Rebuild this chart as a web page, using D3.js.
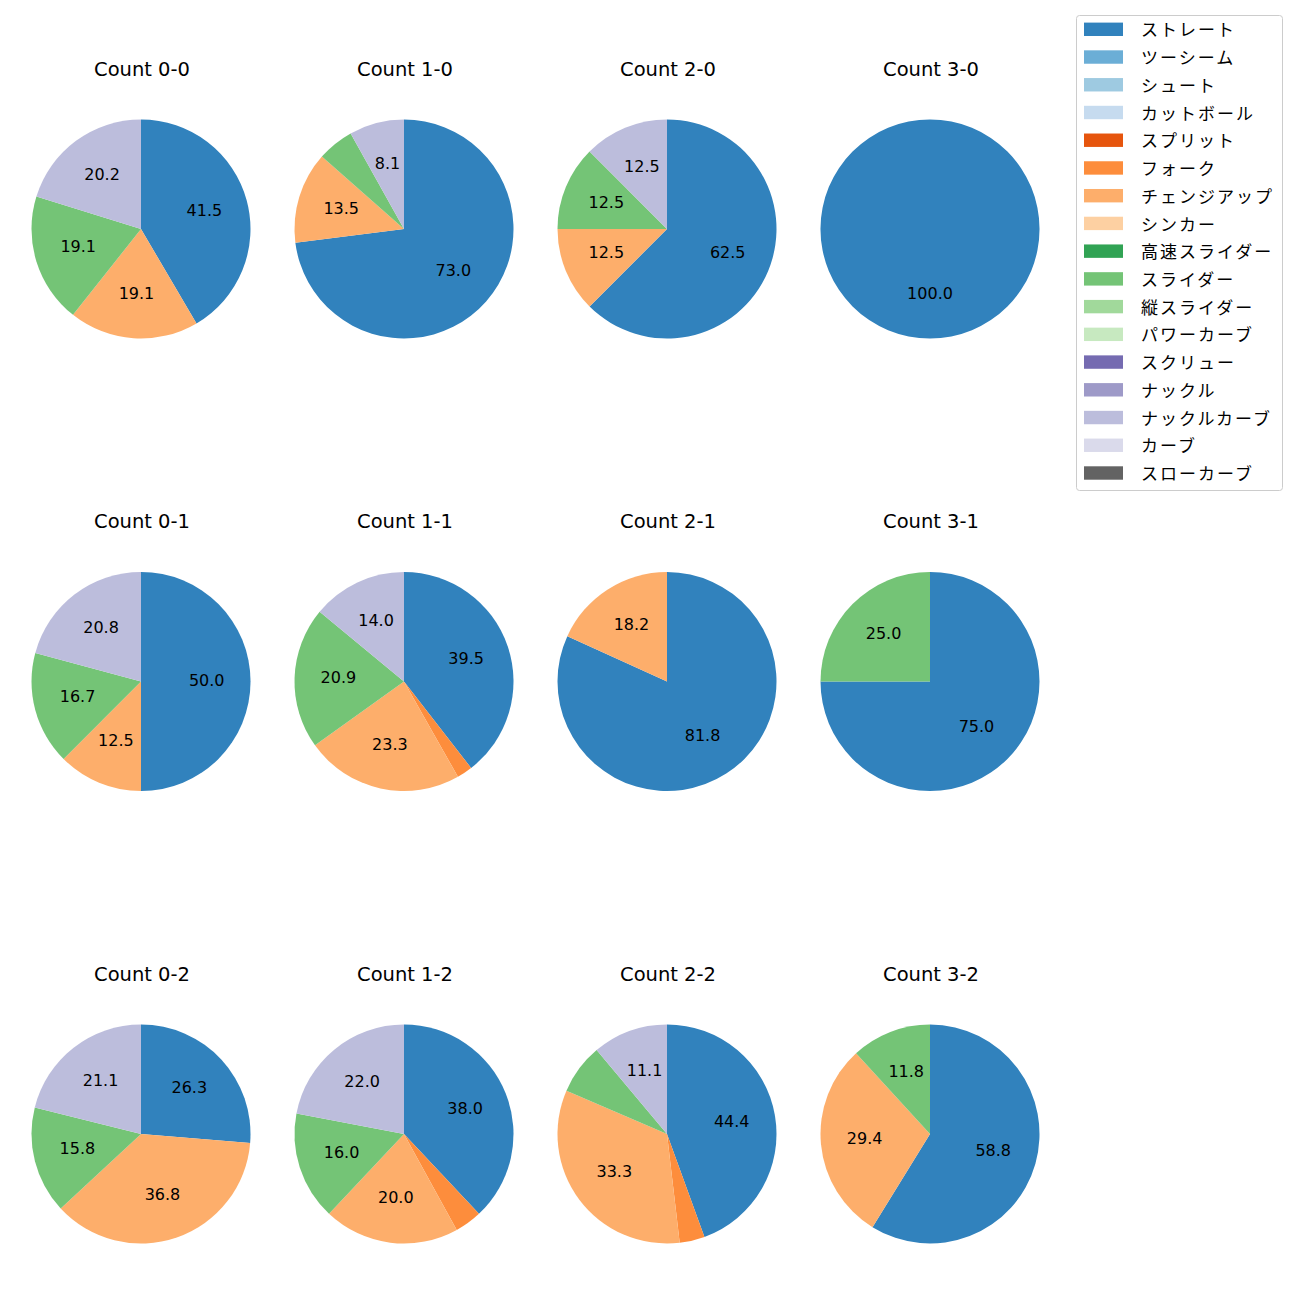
<!DOCTYPE html>
<html><head><meta charset="utf-8">
<script src="https://cdn.jsdelivr.net/npm/d3@7"></script>
<style>body{margin:0;background:#fff;} text{font-family:"DejaVu Sans","Noto Sans CJK JP",sans-serif;} .jp{font-family:"Noto Sans CJK JP","Noto Sans",sans-serif;}</style>
</head><body>
<svg id="chart" width="1300" height="1300"></svg>
<script>
const pitchTypes = ["ストレート","ツーシーム","シュート","カットボール","スプリット","フォーク","チェンジアップ","シンカー","高速スライダー","スライダー","縦スライダー","パワーカーブ","スクリュー","ナックル","ナックルカーブ","カーブ","スローカーブ"];
const colors = ["#3182bd","#6baed6","#9ecae1","#c6dbef","#e6550d","#fd8d3c","#fdae6b","#fdd0a2","#31a354","#74c476","#a1d99b","#c7e9c0","#756bb1","#9e9ac8","#bcbddc","#dadaeb","#636363"];
const countTitles = ["Count 0-0","Count 1-0","Count 2-0","Count 3-0","Count 0-1","Count 1-1","Count 2-1","Count 3-1","Count 0-2","Count 1-2","Count 2-2","Count 3-2"];
// percentages per count, order follows pitchTypes
const c00 = [41.5,0,0,0,0,0,19.1,0,0,19.1,0,0,0,0,20.2,0,0];
const c10 = [73.0,0,0,0,0,0,13.5,0,0,5.4,0,0,0,0,8.1,0,0];
const c20 = [62.5,0,0,0,0,0,12.5,0,0,12.5,0,0,0,0,12.5,0,0];
const c30 = [100.0,0,0,0,0,0,0,0,0,0,0,0,0,0,0,0,0];
const c01 = [50.0,0,0,0,0,0,12.5,0,0,16.7,0,0,0,0,20.8,0,0];
const c11 = [39.5,0,0,0,0,2.3,23.3,0,0,20.9,0,0,0,0,14.0,0,0];
const c21 = [81.8,0,0,0,0,0,18.2,0,0,0,0,0,0,0,0,0,0];
const c31 = [75.0,0,0,0,0,0,0,0,0,25.0,0,0,0,0,0,0,0];
const c02 = [26.3,0,0,0,0,0,36.8,0,0,15.8,0,0,0,0,21.1,0,0];
const c12 = [38.0,0,0,0,0,4.0,20.0,0,0,16.0,0,0,0,0,22.0,0,0];
const c22 = [44.4,0,0,0,0,3.7,33.3,0,0,7.4,0,0,0,0,11.1,0,0];
const c32 = [58.8,0,0,0,0,0,29.4,0,0,11.8,0,0,0,0,0,0,0];
const countValues = [c00,c10,c20,c30,c01,c11,c21,c31,c02,c12,c22,c32];

const svg = d3.select("#chart");
const color = d3.scaleOrdinal().domain(pitchTypes).range(colors);
const colX = d3.scalePoint().domain([0,1,2,3]).range([141, 930]);
const rowY = d3.scalePoint().domain([0,1,2]).range([229, 1134]);
const R = 109.5;
const pie = d3.pie().sort(null).value(d => d.v);
const arc = d3.arc().innerRadius(0).outerRadius(R);
const labelArc = d3.arc().innerRadius(R*0.6).outerRadius(R*0.6);

countValues.forEach((vals, i) => {
  const cx = colX(i % 4), cy = rowY(Math.floor(i / 4));
  const data = vals.map((v, k) => ({name: pitchTypes[k], v})).filter(d => d.v > 0);
  const g = svg.append("g").attr("transform", `translate(${cx},${cy})`);
  const arcs = pie(data);
  g.selectAll("path").data(arcs).join("path")
    .attr("d", arc).attr("fill", d => color(d.data.name));
  g.selectAll("text.lbl").data(arcs.filter(d => d.data.v >= 8)).join("text")
    .attr("class","lbl")
    .attr("transform", d => { const c = labelArc.centroid(d); return `translate(${c[0]},${c[1] + 4})`; })
    .attr("text-anchor","middle")
    .attr("font-size", 16).attr("fill","#000")
    .text(d => d.data.v.toFixed(1));
  svg.append("text").attr("x", cx + 1).attr("y", cy - 153.3)
    .attr("text-anchor","middle")
    .attr("font-size", 19.5).attr("fill","#000").text(countTitles[i]);
});

// legend
const lg = svg.append("g");
lg.append("rect").attr("x",1076.5).attr("y",15.5).attr("width",206).attr("height",475)
  .attr("rx",3).attr("fill","#fff").attr("stroke","#ccc").attr("stroke-width",1);
const ly = d3.scaleLinear().domain([0,16]).range([29.3, 473]);
pitchTypes.forEach((p, k) => {
  lg.append("rect").attr("x",1084).attr("y",ly(k)-6.7).attr("width",39).attr("height",13.4).attr("fill",color(p));
  lg.append("text").attr("class","jp").attr("x",1141).attr("y",ly(k)).attr("dy","0.42em")
    .attr("font-size",17).attr("letter-spacing","2px").attr("fill","#000").text(p);
});
</script>
</body></html>
